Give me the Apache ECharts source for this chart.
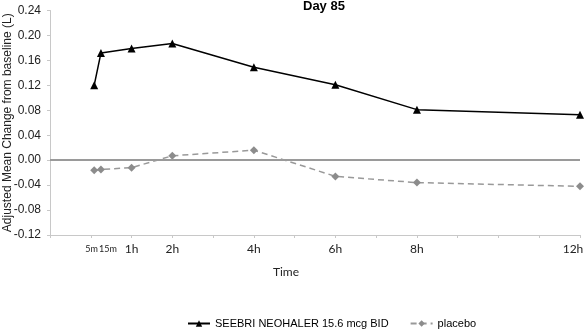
<!DOCTYPE html>
<html>
<head>
<meta charset="utf-8">
<script src="https://cdn.jsdelivr.net/npm/echarts@6/dist/echarts.min.js"></script>
<style>html,body{margin:0;padding:0;background:#fff}#c{width:584px;height:334px}</style>
</head>
<body>
<div id="c"></div>
<script>
// time points in hours
var timeHours = [5/60, 15/60, 1, 2, 4, 6, 8, 12];
var seebri = [0.120, 0.172, 0.179, 0.187, 0.149, 0.121, 0.081, 0.073];
var placebo = [-0.016, -0.015, -0.012, 0.007, 0.016, -0.026, -0.036, -0.042];
var tickLabelValues = [5/60, 15/60, 1, 2, 4, 6, 8, 12];
var tickLabelTexts = ['5m', '15m', '1h', '2h', '4h', '6h', '8h', '12h'];
var seriesNames = ['SEEBRI NEOHALER 15.6 mcg BID', 'placebo'];

function pairs(vals){ return timeHours.map(function(t,i){ return [t, vals[i]]; }); }

var chart = echarts.init(document.getElementById('c'));
chart.setOption({
  animation: false,
  backgroundColor: '#fff',
  title: {
    text: 'Day 85', left: 303, top: 0, padding: 0,
    textStyle: {fontFamily: 'Liberation Sans, Arial', fontSize: 13, fontWeight: 'bold', color: '#000'}
  },
  legend: {
    left: 182, top: 313, itemWidth: 22, itemHeight: 8, itemGap: 21,
    textStyle: {fontFamily: 'Liberation Sans, Arial', fontSize: 11, color: '#000'},
    data: seriesNames
  },
  grid: {left: 50, right: 4, top: 10.5, bottom: 99, containLabel: false, outerBoundsMode: 'none'},
  xAxis: {
    type: 'value', min: -1, max: 12, interval: 1,
    name: 'Time', nameLocation: 'middle', nameGap: 31, nameMoveOverlap: false,
    nameTextStyle: {fontFamily: 'Lato, Open Sans', fontSize: 12, color: '#222', padding: [0, 58, 0, 0]},
    axisLine: {show: true, onZero: false, lineStyle: {color: '#c8c8c8', width: 1}},
    axisTick: {show: true, length: 3, inside: false, lineStyle: {color: '#c8c8c8'}},
    splitLine: {show: false},
    axisLabel: {
      customValues: tickLabelValues, margin: 8, color: '#222',
      fontFamily: 'Lato, Open Sans', fontSize: 12,
      formatter: function(v){
        for (var i=0;i<tickLabelValues.length;i++){
          if (Math.abs(tickLabelValues[i]-v) < 1e-6){
            if (i===0) return '{a|' + tickLabelTexts[i] + '}';
            if (i===1) return '{b|' + tickLabelTexts[i] + '}';
            if (i===tickLabelValues.length-1) return '{c|' + tickLabelTexts[i] + '}';
            return tickLabelTexts[i];
          }
        }
        return '';
      },
      rich: {
        a: {fontFamily: 'Lato, Open Sans', fontSize: 9, color: '#222', padding: [2, 5, 0, 0]},
        b: {fontFamily: 'Lato, Open Sans', fontSize: 9, color: '#222', padding: [2, 0, 0, 14]},
        c: {fontFamily: 'Lato, Open Sans', fontSize: 12, color: '#222', padding: [0, 14, 0, 0]}
      }
    }
  },
  yAxis: {
    type: 'value', min: -0.12, max: 0.24, interval: 0.04,
    name: 'Adjusted Mean Change from baseline (L)', nameLocation: 'middle', nameGap: 36, nameMoveOverlap: false,
    nameTextStyle: {fontFamily: 'Liberation Sans, Arial', fontSize: 12, color: '#222'},
    axisLine: {show: true, onZero: false, lineStyle: {color: '#c8c8c8', width: 1}},
    axisTick: {show: true, length: 3, lineStyle: {color: '#c8c8c8'}},
    splitLine: {show: false},
    axisLabel: {
      margin: 9, color: '#222', fontFamily: 'Liberation Sans, Arial', fontSize: 12,
      formatter: function(v){ return v.toFixed(2); }
    }
  },
  series: [
    {
      name: seriesNames[0], type: 'line', data: pairs(seebri),
      symbol: 'triangle', symbolSize: 8,
      lineStyle: {color: '#000', width: 1.5},
      itemStyle: {color: '#000'},
      z: 3,
      markLine: {
        silent: true, symbol: 'none', label: {show: false},
        lineStyle: {color: '#9a9a9a', width: 2, type: 'solid'},
        data: [{yAxis: 0}]
      }
    },
    {
      name: seriesNames[1], type: 'line', data: pairs(placebo),
      symbol: 'diamond', symbolSize: 8,
      lineStyle: {color: '#999', width: 1.5, type: [6, 4]},
      itemStyle: {color: '#8c8c8c'},
      z: 4
    }
  ]
});
</script>
</body>
</html>
